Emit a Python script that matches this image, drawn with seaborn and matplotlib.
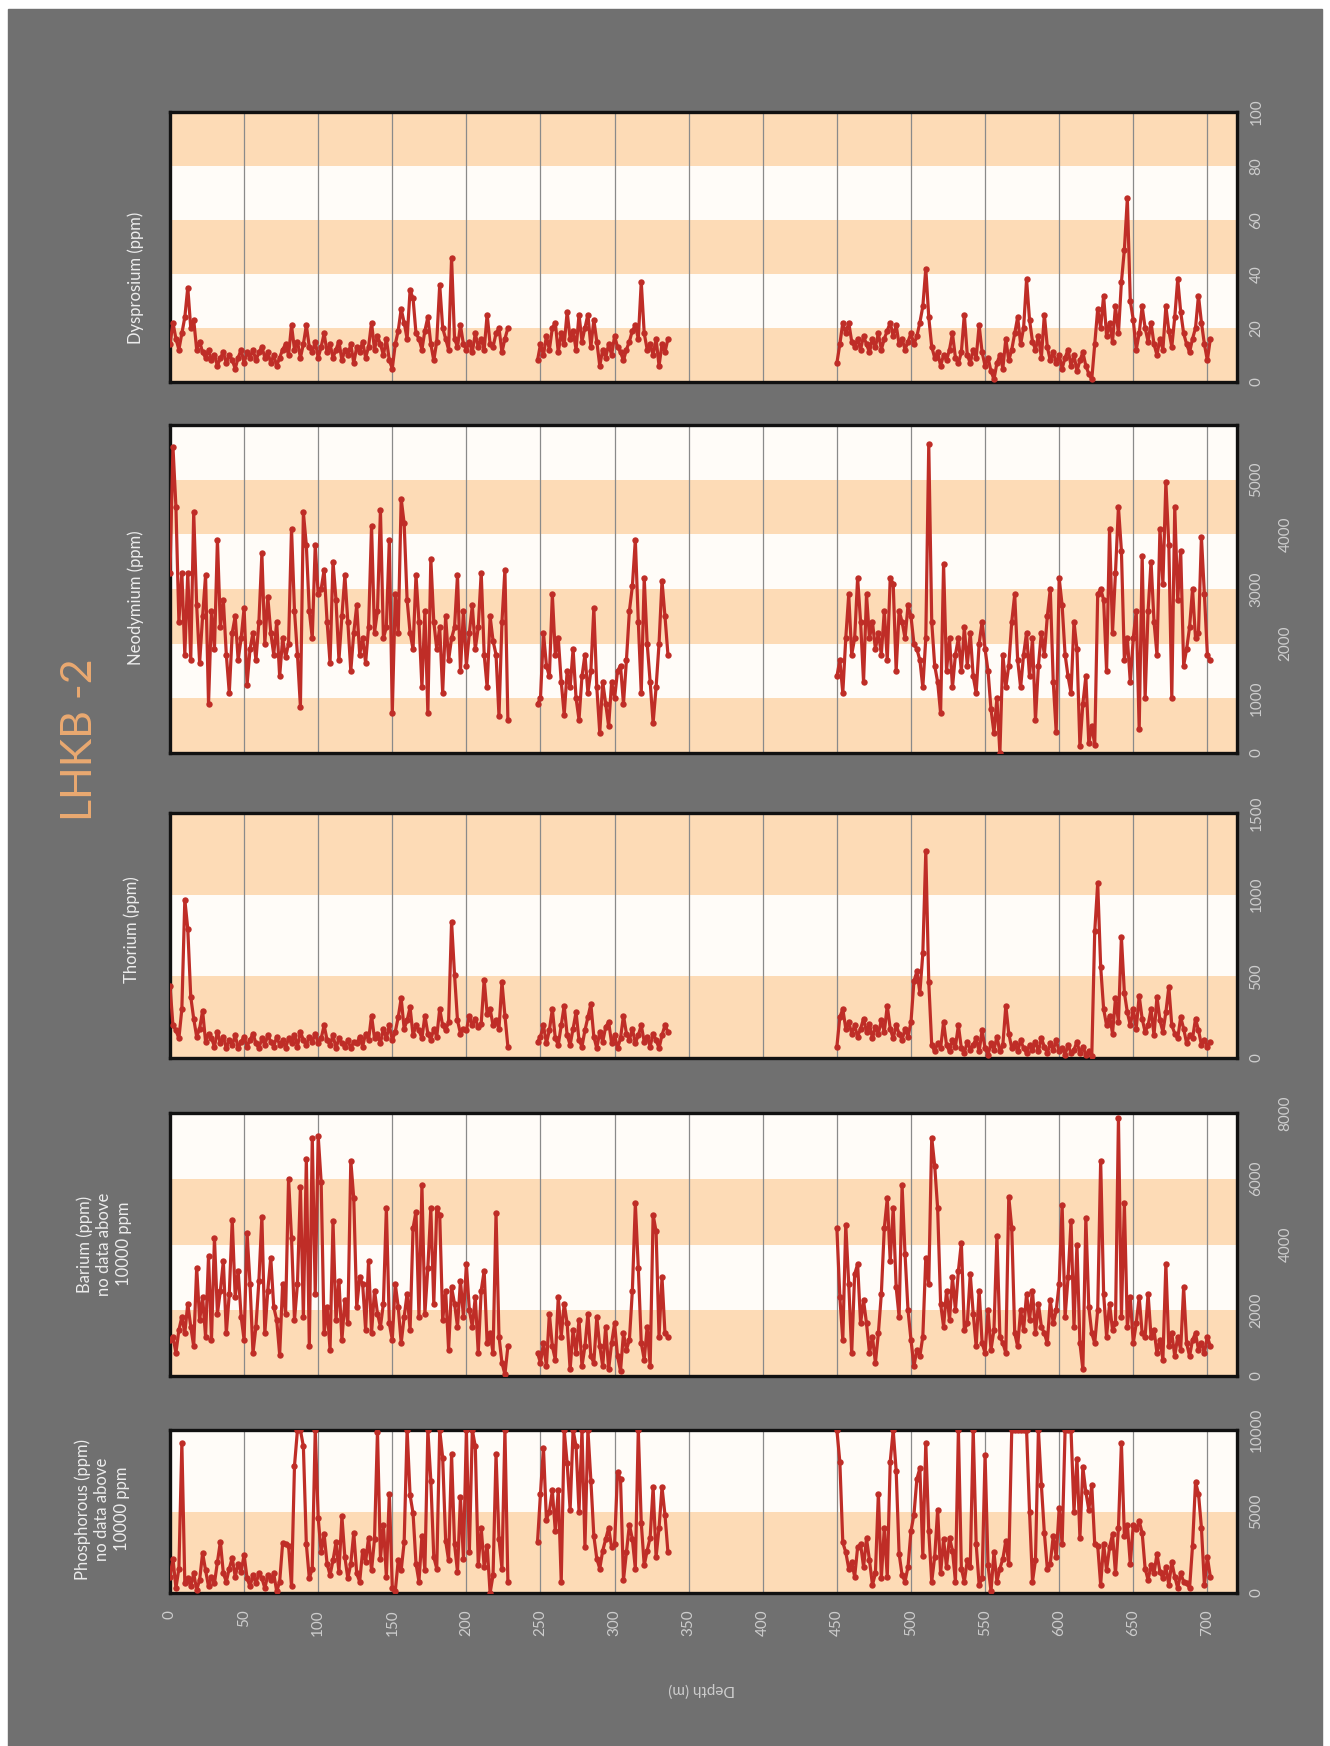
import numpy as np
import pandas as pd
import matplotlib
matplotlib.use("Agg")
import matplotlib.pyplot as plt
import seaborn as sns
from matplotlib.patches import Rectangle

sns.set_theme(style="white")
plt.rcParams["font.family"] = ["Lato", "DejaVu Sans"]

# ---------------- data ----------------
depth_seg1 = list(range(0, 229, 2))
depth_seg2 = list(range(248, 337, 2))
depth_seg3 = list(range(450, 703, 2))
depth_ticks = list(range(0, 701, 50))

dy_seg1 = [14, 22, 16, 12, 18, 24, 35, 20, 23, 12,
           15, 11, 9, 12, 8, 10, 6, 9, 11, 7,
           10, 8, 5, 9, 12, 7, 11, 9, 12, 8,
           11, 13, 9, 11, 7, 10, 6, 9, 12, 14,
           10, 21, 12, 15, 9, 14, 21, 13, 11, 15,
           9, 13, 18, 11, 14, 9, 12, 15, 8, 12,
           10, 14, 7, 13, 11, 15, 9, 13, 22, 12,
           17, 14, 10, 16, 8, 5, 14, 19, 27, 22,
           16, 34, 31, 18, 16, 12, 19, 24, 14, 8,
           15, 36, 20, 16, 12, 46, 16, 13, 21, 14,
           12, 15, 11, 18, 13, 16, 12, 25, 14, 13,
           18, 20, 11, 16, 20]
dy_seg2 = [8, 14, 10, 17, 12, 20, 22, 11, 18, 14,
           26, 16, 19, 12, 25, 15, 20, 25, 13, 23,
           15, 6, 12, 9, 14, 10, 17, 13, 11, 8,
           12, 15, 19, 21, 16, 37, 18, 12, 14, 10,
           16, 6, 14, 11, 16]
dy_seg3 = [7, 14, 22, 18, 22, 15, 13, 16, 12, 17,
           14, 11, 16, 13, 18, 12, 16, 19, 22, 17,
           21, 14, 16, 12, 15, 18, 14, 17, 22, 28,
           42, 24, 13, 9, 11, 6, 10, 8, 12, 18,
           9, 7, 11, 25, 10, 7, 12, 9, 21, 11,
           6, 9, 4, 1, 7, 10, 5, 16, 8, 12,
           18, 24, 14, 20, 38, 23, 15, 12, 17, 9,
           25, 13, 8, 11, 7, 10, 5, 9, 12, 6,
           10, 4, 8, 11, 6, 3, 1, 14, 27, 20,
           32, 17, 22, 15, 28, 18, 37, 49, 68, 30,
           23, 12, 18, 28, 20, 15, 22, 14, 10, 16,
           12, 28, 19, 13, 24, 38, 26, 18, 14, 11,
           16, 20, 32, 22, 14, 8, 16]

nd_seg1 = [3300, 5600, 4500, 2400, 3300, 1800, 3300, 1700, 4400, 2700,
           1650, 2500, 3250, 900, 2600, 1900, 3900, 2300, 2800, 1800,
           1100, 2200, 2500, 1700, 2100, 2650, 1250, 1900, 2200, 1700,
           2400, 3650, 2000, 2850, 2200, 1800, 2400, 1400, 2100, 1750,
           2000, 4100, 2600, 1800, 850, 4400, 3800, 2600, 2100, 3800,
           2900, 3000, 3350, 2400, 1650, 3500, 2800, 1700, 2500, 3250,
           2400, 1500, 2200, 2700, 1800, 2100, 1650, 2300, 4150, 2200,
           2600, 4450, 2100, 2300, 3900, 730, 2900, 2200, 4650, 4200,
           2800, 2200, 1900, 3250, 2400, 1200, 2600, 730, 3550, 2400,
           1900, 2300, 1100, 2500, 1700, 2100, 2300, 3250, 1500, 2600,
           1600, 2200, 2700, 1900, 2300, 3300, 1800, 1200, 2500, 2050,
           1800, 670, 2400, 3350, 610]
nd_seg2 = [900, 1000, 2200, 1600, 1400, 2900, 1800, 2100, 1300, 700,
           1500, 1200, 1900, 1000, 610, 1400, 1800, 1100, 1500, 2650,
           1200, 370, 1300, 900, 490, 1300, 1000, 1500, 1600, 900,
           1700, 2600, 3050, 3900, 2400, 1100, 3200, 2000, 1300, 550,
           1200, 2000, 3150, 2500, 1800]
nd_seg3 = [1400, 1700, 1100, 2100, 2900, 1800, 2100, 3200, 2400, 1300,
           2900, 2100, 2400, 1900, 2200, 1800, 2600, 1700, 3200, 3100,
           1500, 2600, 2400, 2100, 2700, 2500, 2000, 1900, 1700, 1200,
           2100, 5650, 2400, 1600, 1300, 730, 3450, 1500, 2100, 1200,
           1800, 2100, 1500, 2300, 1600, 2200, 1400, 1100, 2000, 2400,
           1900, 1500, 800, 370, 1000, 0, 1800, 1200, 1600, 2400,
           2900, 1700, 1200, 1800, 2200, 1400, 2100, 600, 1600, 2200,
           1800, 2500, 3000, 1300, 380, 3200, 2700, 1800, 1400, 1100,
           2400, 1900, 120, 900, 1400, 180, 500, 150, 2900, 3000,
           2800, 1500, 4100, 2200, 3300, 4500, 3700, 1700, 2100, 1300,
           2100, 2600, 430, 3600, 1000, 2600, 3500, 2400, 1800, 4100,
           3100, 4950, 3800, 1000, 4500, 2800, 3700, 1600, 1900, 2300,
           3000, 2100, 2200, 3950, 2900, 1800, 1700]

th_seg1 = [440, 200, 170, 120, 300, 970, 790, 375, 240, 130,
           180, 290, 100, 150, 120, 70, 160, 90, 130, 60,
           110, 80, 140, 60, 100, 130, 70, 110, 150, 90,
           60, 120, 80, 140, 100, 70, 130, 80, 110, 60,
           120, 90, 140, 70, 160, 110, 80, 130, 100, 150,
           90, 120, 200, 110, 80, 140, 60, 120, 90, 70,
           110, 60, 100, 90, 130, 70, 150, 110, 260, 120,
           150, 90, 180, 120, 200, 110, 160, 250, 365, 180,
           230, 310, 140, 200, 170, 120, 260, 150, 110, 180,
           130, 300, 200, 170, 220, 835, 510, 230, 150, 180,
           170, 260, 200, 240, 190, 210, 480, 270, 300, 200,
           230, 180, 465, 260, 70]
th_seg2 = [100, 130, 200, 90, 170, 300, 120, 80, 200, 320,
           140, 80, 180, 280, 110, 70, 170, 250, 330, 130,
           60, 160, 100, 190, 220, 90, 140, 60, 120, 260,
           150, 110, 180, 90, 140, 200, 100, 130, 70, 150,
           110, 60, 140, 200, 160]
th_seg3 = [70, 250, 300, 180, 220, 150, 200, 130, 180, 240,
           160, 210, 120, 190, 150, 230, 160, 320, 180, 120,
           200, 150, 110, 180, 130, 220, 470, 530, 400, 640,
           1265, 465, 80, 40, 90, 60, 220, 80, 40, 110,
           70, 200, 60, 30, 100, 50, 80, 120, 40, 170,
           60, 20, 90, 50, 130, 40, 80, 320, 150, 60,
           90, 40, 110, 60, 30, 80, 50, 100, 40, 120,
           70, 30, 90, 50, 110, 40, 60, 20, 80, 30,
           50, 100, 30, 70, 20, 40, 10, 775, 1070, 560,
           300, 200, 260, 150, 365, 220, 740, 400, 280, 200,
           300, 180, 380, 240, 160, 200, 300, 140, 375, 230,
           160, 280, 435, 200, 150, 120, 250, 180, 90, 140,
           120, 240, 170, 80, 110, 70, 100]

ba_seg1 = [1100, 1200, 700, 1400, 1800, 1300, 2200, 1500, 900, 3300,
           1700, 2400, 1200, 3650, 1100, 4200, 1900, 2600, 3500, 1300,
           2500, 4750, 2400, 3200, 1800, 1100, 4350, 2800, 700, 1500,
           2900, 4850, 1300, 2600, 3600, 2100, 1700, 650, 2800, 1900,
           6000, 4200, 1700, 2800, 5750, 1800, 6600, 900, 7250, 2500,
           7300, 5900, 1300, 2100, 800, 4700, 1700, 2900, 1100, 2300,
           1600, 6550, 5400, 2100, 3000, 2800, 1400, 3500, 1300, 2600,
           1900, 1500, 2200, 5100, 1600, 1100, 2800, 2100, 1000, 1800,
           2500, 1400, 4500, 5000, 1800, 5800, 1900, 3300, 5100, 2200,
           5100, 4900, 1700, 2600, 800, 2700, 2200, 1500, 2900, 1800,
           3400, 2000, 1500, 2400, 700, 2600, 3200, 1000, 1300, 700,
           4950, 1200, 400, 50, 900]
ba_seg2 = [700, 400, 1000, 300, 1900, 900, 500, 2400, 1200, 2200,
           1600, 200, 1400, 700, 1700, 300, 900, 1900, 600, 400,
           1800, 900, 300, 1500, 200, 1000, 1600, 600, 150, 1300,
           800, 1100, 2600, 5250, 3300, 1000, 500, 1500, 300, 4900,
           4400, 1200, 3000, 1300, 1200]
ba_seg3 = [4500, 2400, 1100, 4600, 2800, 700, 3100, 3400, 1600, 2300,
           1600, 700, 1200, 400, 1300, 2500, 4500, 5400, 3500, 5100,
           2700, 1800, 5800, 3700, 2000, 1100, 300, 800, 600, 1200,
           3600, 2800, 7250, 6400, 5100, 2200, 1500, 2600, 1700, 3000,
           2000, 3200, 4050, 1400, 1600, 3100, 1900, 900, 2600, 1000,
           700, 2000, 800, 1400, 4250, 1200, 1000, 700, 5450, 4500,
           1300, 900, 2000, 1400, 2500, 1700, 2600, 1300, 2200, 1500,
           1300, 1000, 2300, 1600, 2000, 2800, 5200, 1800, 3000, 4700,
           1500, 4000, 1000, 200, 4800, 2100, 1300, 1000, 2000, 6550,
           2500, 1200, 2200, 1400, 1600, 7850, 1800, 5250, 1500, 2400,
           1000, 1600, 2400, 1300, 1200, 2500, 1200, 1400, 700, 1100,
           500, 3400, 900, 1300, 600, 1200, 800, 2700, 1000, 600,
           1100, 1300, 800, 1000, 700, 1200, 900]

ph_seg1 = [1000, 2100, 300, 1500, 9200, 600, 900, 400, 1200, 200,
           800, 2450, 1400, 400, 1000, 600, 1900, 3150, 1200, 700,
           1500, 2150, 1000, 1800, 1300, 2350, 900, 400, 1100, 600,
           1200, 900, 300, 1100, 800, 1200, 100, 700, 3050, 3000,
           2900, 400, 7800, 10000, 10000, 9000, 3000, 900, 1500, 10000,
           4600, 2500, 3600, 1800, 1100, 2000, 3100, 1300, 4700, 2200,
           900, 1800, 3700, 1200, 700, 2600, 1900, 3400, 1400, 3300,
           9900, 2100, 4200, 1000, 6100, 300, 100, 2000, 1400, 3100,
           10000, 6000, 4900, 1800, 700, 3500, 1400, 10000, 6900, 2200,
           1500, 10000, 8300, 3200, 2000, 8500, 3000, 1300, 5900, 2100,
           10000, 2500, 10000, 9000, 1700, 4000, 1600, 2900, 0, 1100,
           8500, 3300, 1500, 10000, 700]
ph_seg2 = [3150, 6100, 8900, 4500, 5000, 6300, 3800, 6300, 700, 10000,
           7950, 5100, 10000, 9000, 5000, 10000, 2850, 10000, 6900, 3500,
           2100, 1500, 2600, 3300, 4000, 2800, 3000, 7400, 7000, 800,
           2500, 4200, 3300, 1500, 10000, 4300, 1700, 2600, 3400, 6500,
           2200, 4000, 6500, 4800, 2500]
ph_seg3 = [10000, 8050, 3100, 2500, 1500, 1900, 1000, 2800, 3000, 1600,
           3350, 2000, 500, 1200, 6100, 900, 4000, 1000, 8050, 10000,
           7500, 2400, 1100, 700, 1600, 3800, 4800, 7000, 7650, 2300,
           9200, 3800, 700, 2200, 5100, 1200, 3300, 1600, 3400, 2600,
           700, 10000, 1500, 700, 2000, 1600, 10000, 3000, 500, 900,
           8450, 1700, 100, 2500, 700, 1500, 2100, 3200, 1800, 10000,
           10000, 10000, 10000, 10000, 10000, 5000, 700, 2000, 10000, 6600,
           3700, 1500, 1800, 3500, 2200, 5200, 3000, 10000, 10000, 10000,
           5000, 8250, 3400, 7700, 6200, 5100, 6600, 3000, 2900, 500,
           3000, 1400, 2800, 3600, 1200, 4000, 9200, 3500, 4200, 1800,
           4200, 3900, 4400, 3700, 1500, 800, 1700, 1200, 2400, 1300,
           900, 1600, 500, 1900, 1000, 300, 1200, 700, 600, 300,
           2900, 6800, 6100, 4000, 500, 2200, 1000]

dy_bands = [0, 20, 40, 60, 80, 100]
nd_bands = [0, 1000, 2000, 3000, 4000, 5000, 6000]
th_bands = [0, 500, 1000, 1500]
ba_bands = [0, 2000, 4000, 6000, 8000]
ph_bands = [0, 5000, 10000]

dy_ticks = [0, 20, 40, 60, 80, 100]
nd_ticks = [0, 1000, 2000, 3000, 4000, 5000]
th_ticks = [0, 500, 1000, 1500]
ba_ticks = [0, 2000, 4000, 6000, 8000]
ph_ticks = [0, 5000, 10000]

labels = ["Dysprosium (ppm)", "Neodymium (ppm)", "Thorium (ppm)",
          "Barium (ppm)\nno data above\n10000 ppm",
          "Phosphorous (ppm)\nno data above\n10000 ppm"]
title = "LHKB -2"

# ---------------- style ----------------
W, H = 1330, 1746
BG = "#707070"
PEACH = "#fddbb6"
LIGHT = "#fffcf8"
RED = "#bf2d27"
TXT = "#ececec"
TICK = "#cdcdcd"
GRID = "#8a8a8a"

def seg_frame(s1, s2, s3):
    parts = []
    for k, (d, v) in enumerate([(depth_seg1, s1), (depth_seg2, s2), (depth_seg3, s3)]):
        parts.append(pd.DataFrame({"depth": d, "value": v, "seg": k}))
    return pd.concat(parts, ignore_index=True)

panels = [
    dict(df=seg_frame(dy_seg1, dy_seg2, dy_seg3), bands=dy_bands, ticks=dy_ticks,
         box=(112, 382), label=labels[0], lpos=(136, 278), stagger=[]),
    dict(df=seg_frame(nd_seg1, nd_seg2, nd_seg3), bands=nd_bands, ticks=nd_ticks,
         box=(425, 753), label=labels[1], lpos=(136, 598), stagger=[2000, 4000]),
    dict(df=seg_frame(th_seg1, th_seg2, th_seg3), bands=th_bands, ticks=th_ticks,
         box=(813, 1058), label=labels[2], lpos=(132, 930), stagger=[]),
    dict(df=seg_frame(ba_seg1, ba_seg2, ba_seg3), bands=ba_bands, ticks=ba_ticks,
         box=(1113, 1376), label=labels[3], lpos=(104, 1244), stagger=[4000, 8000]),
    dict(df=seg_frame(ph_seg1, ph_seg2, ph_seg3), bands=ph_bands, ticks=ph_ticks,
         box=(1430, 1593), label=labels[4], lpos=(102, 1509), stagger=[]),
]

fig = plt.figure(figsize=(W / 100, H / 100), dpi=100, facecolor="white")
fig.add_artist(Rectangle((8 / W, 0), (1322 - 8) / W, 1 - 9 / H,
                         transform=fig.transFigure, color=BG, zorder=-10))

x0, x1 = 170, 1237
for i, p in enumerate(panels):
    top, bot = p["box"]
    ax = fig.add_axes([x0 / W, 1 - bot / H, (x1 - x0) / W, (bot - top) / H])
    b = p["bands"]
    for j in range(len(b) - 1):
        ax.axhspan(b[j], b[j + 1], color=PEACH if j % 2 == 0 else LIGHT, lw=0, zorder=0)
    ax.set_xlim(0, 720)
    ax.set_ylim(b[0], b[-1])
    ax.set_xticks(depth_ticks)
    ax.grid(axis="x", color=GRID, lw=0.9)
    ax.grid(axis="y", visible=False)
    ax.set_axisbelow("line")
    sns.lineplot(data=p["df"], x="depth", y="value", units="seg", estimator=None,
                 sort=False, ax=ax, color=RED, lw=2.3, marker="o", markersize=4.6,
                 markeredgewidth=0, legend=False, zorder=3)
    ax.set_xlabel("")
    ax.set_ylabel("")
    ax.yaxis.tick_right()
    ax.set_yticks(p["ticks"])
    ax.set_yticklabels([str(t) for t in p["ticks"]])
    ax.tick_params(axis="y", length=0, pad=9, labelsize=11, labelcolor=TICK,
                   labelrotation=90)
    for lab in ax.get_yticklabels():
        lab.set_va("center")
    for s in ax.spines.values():
        s.set_color("#111111")
        s.set_linewidth(2.4)
        s.set_visible(True)
    if i == len(panels) - 1:
        ax.tick_params(axis="x", length=0, pad=12, labelsize=11, labelcolor=TICK,
                       labelrotation=90)
        for lab in ax.get_xticklabels():
            lab.set_va("top")
    else:
        ax.tick_params(axis="x", length=0, labelbottom=False)
    for t, tick in zip(p["ticks"], ax.yaxis.get_major_ticks()):
        if t in p["stagger"]:
            tick.set_pad(30)
    fig.text(p["lpos"][0] / W, 1 - p["lpos"][1] / H, p["label"], rotation=90,
             ha="center", va="center", color=TXT, fontsize=12,
             multialignment="center", linespacing=1.25)

fig.text(80 / W, 1 - 740 / H, title, rotation=90, ha="center", va="center",
         color="#eaa970", fontsize=31, fontweight="normal")
fig.text(702 / W, 1 - 1690 / H, "Depth (m)", rotation=180, ha="center", va="center",
         color=TICK, fontsize=11)

fig.savefig("out.png", dpi=100, facecolor=fig.get_facecolor())
